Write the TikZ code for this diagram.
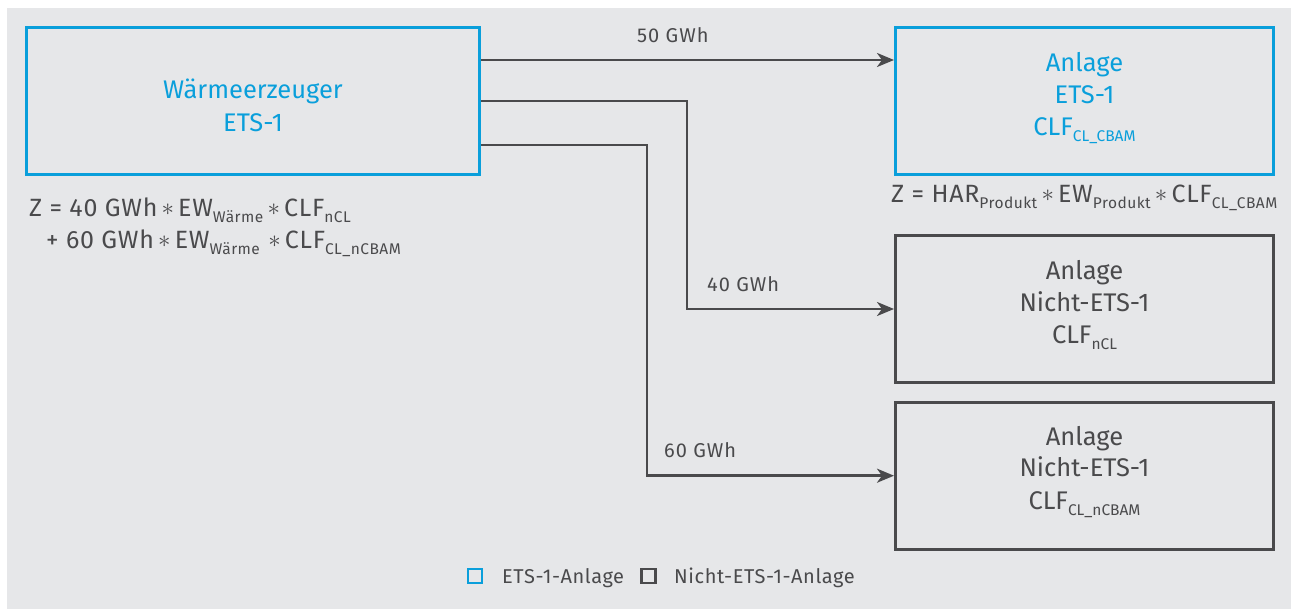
\documentclass[tikz,border=0pt]{standalone}
\usepackage{fontspec}
\setmainfont{Fira Sans}
\usetikzlibrary{arrows.meta}
\definecolor{bg}{HTML}{E6E7E9}
\definecolor{ets}{HTML}{0A9FDB}
\definecolor{dk}{HTML}{4A4A4C}
\newcommand\sbs[1]{\raisebox{-6pt}{\fontsize{15.5}{15.5}\selectfont #1}}
\newcommand\stt{\,\raisebox{1pt}{$\ast$}\,}
\begin{document}
\begin{tikzpicture}[x=1pt,y=-1pt,
  etsbox/.style={draw=ets,line width=3pt,inner sep=0pt,rectangle},
  othbox/.style={draw=dk,line width=3pt,inner sep=0pt,rectangle},
  conn/.style={draw=dk,line width=2.6pt,-{Stealth[length=17pt,width=14pt,inset=5pt]}},
  etstxt/.style={text=ets,font=\fontsize{25.5}{32}\selectfont,align=center,inner sep=0pt},
  othtxt/.style={text=dk,font=\fontsize{25.5}{32}\selectfont,align=center,inner sep=0pt},
  lbl/.style={text=dk,font=\fontsize{20}{22}\selectfont\addfontfeature{LetterSpace=5},inner sep=0pt,anchor=base west},
  frm/.style={text=dk,font=\fontsize{25}{26}\selectfont\addfontfeature{LetterSpace=3},inner sep=0pt,anchor=base west},
  leg/.style={text=dk,font=\fontsize{20}{22}\selectfont\addfontfeature{LetterSpace=3},inner sep=0pt,anchor=base west}]
\useasboundingbox (0,0) rectangle (1291,609);
\fill[bg] (7,8) rectangle (1291,609);
% boxes
\node[etsbox,minimum width=453pt,minimum height=147pt] (gen) at (253,101) {};
\node[etsbox,minimum width=378pt,minimum height=147pt] (e1) at (1084.5,101) {};
\node[othbox,minimum width=378pt,minimum height=147pt] (e2) at (1084.5,309) {};
\node[othbox,minimum width=378pt,minimum height=147pt] (e3) at (1084.5,475.7) {};
% box texts
\node[etstxt,anchor=base] (gt1) at (253,99) {Wärmeerzeuger};
\node[etstxt,anchor=base] (gt2) at (253,132) {ETS-1};
\node[etstxt,anchor=base] (a1) at (1084.5,72) {Anlage};
\node[etstxt,anchor=base] (b1) at (1084.5,104) {ETS-1};
\node[etstxt,anchor=base] (c1) at (1084.5,136) {CLF\sbs{CL\_CBAM}};
\node[othtxt,anchor=base] (a2) at (1084.5,280) {Anlage};
\node[othtxt,anchor=base] (b2) at (1084.5,312) {Nicht-ETS-1};
\node[othtxt,anchor=base] (c2) at (1084.5,344) {CLF\sbs{nCL}};
\node[othtxt,anchor=base] (a3) at (1084.5,446) {Anlage};
\node[othtxt,anchor=base] (b3) at (1084.5,477) {Nicht-ETS-1};
\node[othtxt,anchor=base] (c3) at (1084.5,509) {CLF\sbs{CL\_nCBAM}};
% formulas
\node[frm] (f1) at (29,217) {Z = 40 GWh\stt EW\sbs{Wärme}\stt CLF\sbs{nCL}};
\node[frm] (f2) at (46,249) {+ 60 GWh\stt EW\sbs{Wärme}\,\stt CLF\sbs{CL\_nCBAM}};
\node[frm] (f3) at (891,203) {Z = HAR\sbs{Produkt}\stt EW\sbs{Produkt}\stt CLF\sbs{CL\_CBAM}};
% connectors
\coordinate (k2) at (687,309);
\coordinate (k3) at (647,475.7);
\draw[conn] ([yshift=41pt]gen.east) -- ([yshift=41pt]gen.east -| e1.west);
\draw[conn] (gen.east) -| (k2) -- (e2.west);
\draw[conn] ([yshift=-44pt]gen.east) -| (k3) -- (e3.west);
% labels
\node[lbl] (l1) at (637,43) {50 GWh};
\node[lbl] (l2) at (707,292) {40 GWh};
\node[lbl] (l3) at (664,458) {60 GWh};
% legend
\node[draw=ets,line width=2.6pt,minimum size=14pt,inner sep=0pt] (s1) at (475,576) {};
\node[leg] (t1) at (502,583) {ETS-1-Anlage};
\node[draw=dk,line width=2.6pt,minimum size=14pt,inner sep=0pt] (s2) at (648.5,576) {};
\node[leg] (t2) at (674,583) {Nicht-ETS-1-Anlage};
\end{tikzpicture}
\end{document}
